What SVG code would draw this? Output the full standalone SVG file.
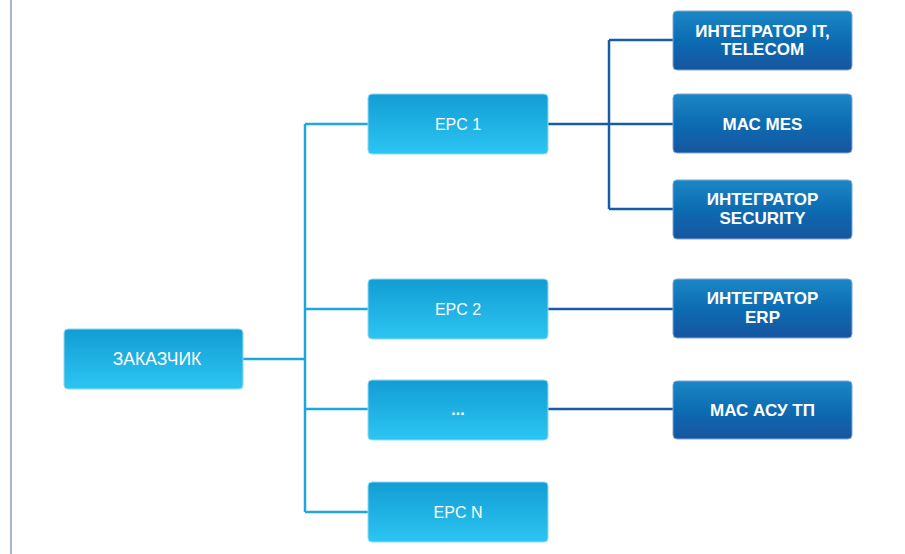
<svg xmlns="http://www.w3.org/2000/svg" width="905" height="554" viewBox="0 0 905 554">
<defs>
<linearGradient id="gl" x1="0" y1="0" x2="0" y2="1">
<stop offset="0" stop-color="#129dd4"/>
<stop offset="1" stop-color="#2cc5f2"/>
</linearGradient>
<linearGradient id="gd" x1="0" y1="0" x2="0" y2="1">
<stop offset="0" stop-color="#1c87c6"/>
<stop offset="0.5" stop-color="#0c6cb2"/>
<stop offset="1" stop-color="#1755a0"/>
</linearGradient>
</defs>
<style>
.l rect{fill:url(#gl);stroke:#8fd9f3;stroke-width:1}
.d rect{fill:url(#gd);stroke:#7fa8d4;stroke-width:1}
text{font-family:"Liberation Sans",Arial,sans-serif;font-size:16px;fill:#fff;text-anchor:middle}
.d text{font-weight:bold;font-size:17px}
.cl{stroke:#1ea7dc;stroke-width:2.5;fill:none}
.cd{stroke:#165da6;stroke-width:2.5;fill:none}
</style>
<rect width="905" height="554" fill="#fff"/>
<line x1="11" y1="0" x2="11" y2="554" stroke="#8b9dbb" stroke-width="1.5"/>
<g id="connectors">
<path class="cl" d="M243 359H305M305 124V512M305 124H368M305 309H368M305 409H368M305 512H368"/>
<path class="cd" d="M548 124H673M609 40V209M609 40H673M609 209H673M548 309H673M548 409H673"/>
</g>
<g id="zakazchik" class="l"><rect x="64" y="329" width="179" height="60" rx="4"/><text x="157" y="365" style="font-size:17.5px">ЗАКАЗЧИК</text></g>
<g id="epc1" class="l"><rect x="368" y="94" width="180" height="60" rx="4"/><text x="458" y="130">EPC 1</text></g>
<g id="epc2" class="l"><rect x="368" y="279" width="180" height="60" rx="4"/><text x="458" y="315">EPC 2</text></g>
<g id="epcdots" class="l"><rect x="368" y="380" width="180" height="60" rx="4"/><text x="458" y="415" style="font-weight:bold">...</text></g>
<g id="epcn" class="l"><rect x="368" y="482" width="180" height="60" rx="4"/><text x="458" y="518">EPC N</text></g>
<g id="it" class="d"><rect x="673" y="11" width="179" height="59" rx="4"/><text x="762.5" y="36.5">ИНТЕГРАТОР IT,</text><text x="762.5" y="55">TELECOM</text></g>
<g id="mes" class="d"><rect x="673" y="94" width="179" height="59" rx="4"/><text x="762.5" y="130">МАС MES</text></g>
<g id="security" class="d"><rect x="673" y="180" width="179" height="59" rx="4"/><text x="762.5" y="205">ИНТЕГРАТОР</text><text x="762.5" y="224">SECURITY</text></g>
<g id="erp" class="d"><rect x="673" y="279" width="179" height="59" rx="4"/><text x="762.5" y="304">ИНТЕГРАТОР</text><text x="762.5" y="323">ERP</text></g>
<g id="asutp" class="d"><rect x="673" y="381" width="179" height="58" rx="4"/><text x="762.5" y="416">МАС АСУ ТП</text></g>
</svg>
